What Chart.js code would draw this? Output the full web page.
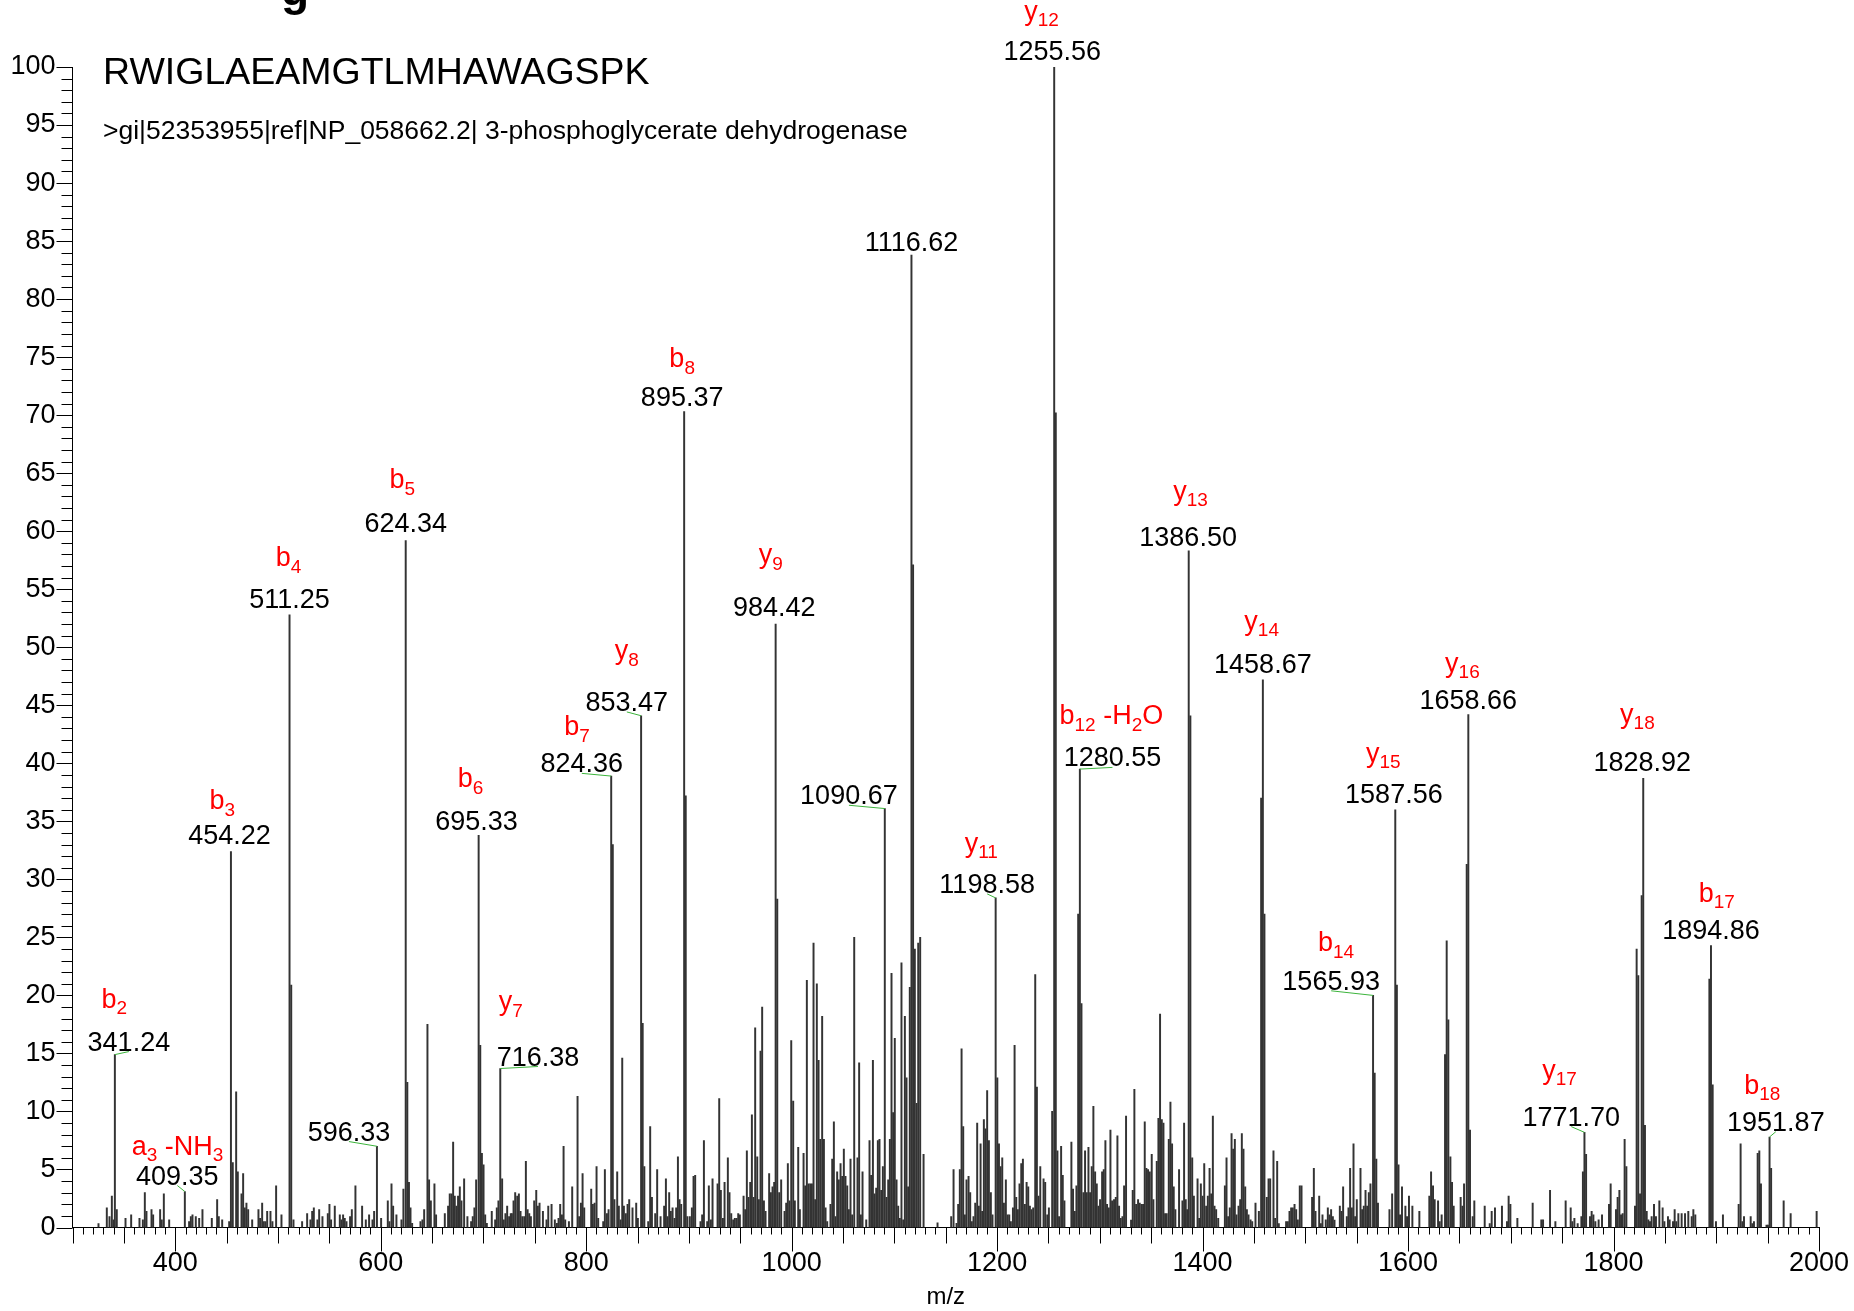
<!DOCTYPE html>
<html>
<head>
<meta charset="utf-8">
<title>MS/MS spectrum</title>
<script src="https://cdn.jsdelivr.net/npm/chart.js@4.4.1/dist/chart.umd.min.js"></script>
<style>
  html, body { margin: 0; padding: 0; background: #fff; }
  canvas { display: block; }
</style>
</head>
<body>
<canvas id="spectrum" width="1854" height="1311"></canvas>
<script>
const FONT = '"Liberation Sans", Arial, Helvetica, sans-serif';

const peptide = "RWIGLAEAMGTLMHAWAGSPK";
const proteinRef = ">gi|52353955|ref|NP_058662.2| 3-phosphoglycerate dehydrogenase";

// peak list (m/z, relative intensity %)
const peakMz = [
  325.3, 333.4, 336.0, 338.3, 339.9, 341.24, 343.1, 351.6, 357.1, 365.2,
  368.5, 370.4, 372.0, 376.9, 378.5, 385.3, 386.9, 388.9, 394.1, 409.35,
  413.5, 415.2, 416.8, 420.0, 423.3, 426.5, 435.6, 440.8, 442.4, 445.7,
  452.5, 454.22, 456.0, 459.3, 460.9, 464.5, 466.1, 467.7, 469.3, 471.0,
  474.9, 481.0, 482.6, 484.6, 486.2, 487.8, 489.5, 492.7, 494.6, 498.2,
  503.4, 511.25, 512.9, 515.1, 523.5, 528.4, 531.6, 533.3, 534.9, 538.4,
  540.1, 543.3, 548.5, 550.1, 551.7, 555.3, 560.2, 561.8, 563.4, 565.0,
  566.7, 570.2, 571.9, 575.4, 581.9, 585.5, 588.7, 592.0, 593.6, 596.33,
  600.4, 606.9, 608.5, 610.5, 612.1, 615.3, 620.2, 622.1, 624.34, 625.9,
  627.5, 629.0, 630.6, 638.7, 640.6, 642.3, 645.5, 647.1, 648.8, 652.3,
  653.9, 662.4, 665.6, 667.2, 668.9, 670.5, 672.1, 673.7, 675.3, 677.0,
  678.6, 681.2, 684.4, 688.0, 689.6, 691.2, 692.9, 695.33, 696.9, 698.5,
  700.1, 701.7, 703.3, 708.1, 711.4, 713.0, 714.6, 716.38, 718.2, 719.8,
  721.4, 723.1, 725.0, 726.6,
  727.7, 729.3, 730.9, 732.9, 734.5, 736.1, 737.8, 739.7, 741.3, 743.0,
  744.6, 746.2, 749.4, 751.4, 753.0, 754.6, 757.9, 761.4, 763.1, 766.3,
  769.5, 771.5, 773.1, 774.7, 776.4, 778.0, 779.6, 783.2, 786.4, 791.6,
  793.2, 794.9, 796.5, 798.1, 804.9, 806.5, 808.2, 810.1, 811.7, 816.6,
  818.2, 820.2, 821.8, 824.36, 825.9, 827.5, 830.2, 831.8, 833.5, 835.1,
  836.7, 838.6, 840.3, 841.9, 845.1, 848.7, 850.3, 853.47, 855.0, 856.6,
  860.4, 862.3, 864.0, 867.2, 869.1, 872.4, 875.9, 877.6, 879.2, 880.8,
  882.4, 884.1, 886.0, 887.6, 889.3, 890.9, 892.5, 895.37, 896.9, 898.5,
  900.9, 902.9, 904.5, 906.1, 911.3, 912.9, 914.6, 917.8, 919.4, 921.4,
  923.0, 927.9, 929.5, 931.1, 933.1, 934.7, 937.9, 939.5, 941.2, 943.1,
  944.7, 946.4, 948.0, 949.6, 953.2, 954.8, 956.4, 958.0, 959.7, 961.3,
  962.9, 964.5, 966.5, 968.1, 969.7, 971.3, 973.0, 974.6, 978.1, 979.8,
  981.4, 983.0, 984.42, 986.0, 987.9, 989.8, 993.1, 994.7, 996.3, 997.9,
  999.6, 1001.5, 1003.1, 1006.4, 1008.0, 1011.6, 1013.2, 1014.8, 1016.4, 1018.1,
  1019.7, 1021.3, 1022.9, 1024.5, 1026.2, 1027.8, 1029.7, 1031.4, 1033.0, 1034.6,
  1037.8, 1039.5, 1041.1, 1042.7, 1044.3, 1045.9, 1047.6, 1049.2, 1050.8, 1052.4,
  1054.1, 1055.7, 1057.3, 1058.9, 1060.9, 1064.1, 1065.7, 1067.4, 1069.0, 1072.6,
  1075.8, 1077.4, 1079.1, 1080.7, 1082.3, 1083.9, 1085.5, 1087.2, 1088.8, 1090.67,
  1092.3, 1094.0, 1095.6, 1097.2, 1098.8, 1100.4, 1102.1, 1103.7, 1105.3, 1106.9,
  1108.6, 1110.2, 1111.8, 1113.4, 1115.0, 1116.62, 1118.2, 1119.9, 1121.6, 1123.2,
  1125.1, 1128.4, 1142.0, 1155.3,
  1157.6, 1160.5, 1162.1, 1163.7, 1165.4, 1167.0, 1168.6, 1170.2, 1172.2, 1173.8,
  1175.4, 1177.0, 1178.7, 1180.6, 1182.2, 1183.9, 1185.5, 1187.1, 1188.7, 1190.3,
  1192.0, 1193.9, 1195.5, 1198.58, 1200.2, 1201.8, 1203.4, 1205.0, 1206.6, 1208.5,
  1210.2, 1211.8, 1213.4, 1215.4, 1217.0, 1218.6, 1220.2, 1221.8, 1223.5, 1225.1,
  1227.0, 1228.7, 1230.3, 1231.9, 1233.5, 1235.1, 1237.1, 1238.7, 1240.3, 1242.0,
  1245.2, 1246.8, 1248.8, 1250.4, 1253.6, 1255.56, 1257.1, 1258.7, 1260.3, 1262.3,
  1263.9, 1265.5, 1272.3, 1273.9, 1275.6, 1277.2, 1278.9, 1280.55, 1282.1, 1284.0,
  1285.6, 1287.3, 1288.9, 1290.5, 1292.1, 1293.7, 1295.4, 1297.0, 1298.6, 1300.2,
  1302.2, 1303.8, 1305.4, 1307.0, 1308.7, 1310.3, 1311.9, 1313.8, 1315.5, 1317.1,
  1318.7, 1320.3, 1322.0, 1323.6, 1325.5, 1330.4, 1332.0, 1333.6, 1335.3, 1337.2,
  1338.8, 1340.5, 1342.1, 1343.7, 1345.3, 1346.9, 1348.6, 1350.5, 1352.1, 1355.4,
  1357.0, 1358.6, 1360.3, 1361.9, 1363.5, 1365.1, 1367.1, 1368.7, 1370.3, 1371.9,
  1373.5, 1377.1, 1380.4, 1382.0, 1383.6, 1385.0, 1386.50, 1388.1, 1389.9, 1391.5,
  1395.1, 1396.7, 1398.3, 1400.0, 1401.6, 1403.5, 1405.1, 1406.8, 1408.4, 1410.0,
  1411.6, 1413.2, 1415.2, 1421.7, 1423.3, 1424.9, 1426.5, 1428.2, 1429.8, 1431.4,
  1433.0, 1435.0, 1436.6, 1438.2, 1439.8, 1441.5, 1443.1, 1444.7, 1446.7, 1448.3,
  1451.5, 1454.8, 1457.0, 1458.67, 1460.2, 1462.5, 1464.2, 1465.8, 1469.0, 1470.6,
  1472.6, 1474.2, 1481.3, 1483.0, 1484.6, 1486.2, 1487.8, 1489.5, 1491.1, 1492.7,
  1494.6, 1496.3, 1506.6, 1508.3, 1509.9, 1513.5, 1515.1, 1516.7, 1519.9, 1521.9,
  1523.5, 1525.1, 1526.8, 1528.4, 1533.6, 1535.2, 1536.8, 1540.4, 1542.0, 1543.6,
  1545.3, 1546.9, 1548.5, 1550.1, 1553.7, 1555.3, 1556.9, 1558.6, 1560.2, 1561.8,
  1563.4, 1565.93, 1567.5, 1569.1, 1570.7, 1581.9, 1584.5,
  1587.56, 1589.1, 1590.7, 1592.2, 1594.1, 1597.4, 1599.0, 1600.9, 1604.2, 1611.0,
  1620.7, 1622.4, 1624.3, 1625.9, 1629.2, 1630.8, 1632.7, 1636.0, 1637.6, 1639.2,
  1641.2, 1642.8, 1644.4, 1651.2, 1652.9, 1654.5, 1657.1, 1658.66, 1660.3, 1662.9,
  1664.5, 1674.6, 1679.5, 1681.4, 1684.6, 1691.4, 1696.3, 1697.9, 1699.6, 1706.4,
  1721.3, 1729.7, 1731.4, 1738.2, 1743.4, 1753.4, 1758.3, 1759.9, 1761.9, 1765.1,
  1768.7, 1770.2, 1771.70, 1773.3, 1777.1, 1778.7, 1780.4, 1782.3, 1785.5, 1788.8,
  1795.6, 1797.2, 1802.4, 1804.0, 1805.7, 1807.3, 1808.9, 1810.8, 1812.5, 1820.9,
  1822.5, 1824.1, 1825.8, 1827.4, 1828.92, 1830.6, 1832.3, 1833.9, 1835.5, 1837.1,
  1839.4, 1841.3, 1844.6, 1847.8, 1849.5, 1853.0, 1854.6, 1857.9, 1859.5, 1861.1,
  1863.1, 1866.3, 1869.6, 1872.8, 1876.1, 1877.7, 1879.6, 1893.3, 1894.86, 1896.5,
  1899.7, 1906.5, 1921.8, 1923.7, 1925.4, 1927.0, 1933.5, 1935.1, 1936.7, 1940.3,
  1941.9, 1943.5, 1948.9, 1950.3, 1951.87, 1953.4, 1965.6, 1972.4, 1997.7
];

const peakIntensity = [
  0.34, 1.7, 0.95, 2.7, 0.66, 14.9, 1.55, 0.8, 1.1, 0.8,
  0.66, 3.0, 1.4, 1.55, 1.1, 1.55, 0.66, 2.9, 0.66, 3.1,
  0.5, 0.95, 1.1, 0.95, 0.8, 1.55, 0.8, 2.4, 0.95, 0.66,
  0.5, 32.4, 5.6, 11.7, 4.8, 2.9, 4.65, 1.7, 2.1, 1.55,
  0.66, 1.55, 0.8, 2.1, 0.5, 0.5, 1.4, 1.4, 0.5, 3.6,
  1.1, 52.8, 20.9, 0.66, 0.5, 1.2, 0.66, 1.4, 1.7, 0.66,
  1.55, 0.95, 1.2, 2.0, 0.66, 1.85, 1.1, 0.66, 1.1, 0.8,
  0.5, 0.95, 1.55, 3.6, 1.85, 0.66, 1.1, 0.66, 1.4, 7.0,
  0.8, 2.3, 0.5, 3.76, 1.85, 1.1, 0.66, 3.3, 59.2, 12.5,
  3.9, 1.7, 0.37, 0.5, 0.66, 1.55, 17.5, 4.1, 2.3, 3.76,
  1.1, 1.2, 1.85, 2.9, 2.9, 7.35, 2.7, 1.85, 2.7, 3.5,
  2.3, 4.2, 0.95, 0.5, 0.95, 1.7, 4.1, 33.8, 15.7, 6.4,
  5.4, 1.1, 0.37, 1.4, 0.66, 1.7, 2.3, 13.7, 4.2, 0.66,
  1.2, 1.85, 0.95, 1.2,
  1.2, 2.3, 3.0, 2.7, 2.9, 1.4, 0.95, 0.95, 5.7, 1.55,
  1.2, 0.95, 2.3, 3.2, 1.85, 2.1, 1.4, 0.66, 1.85, 2.0,
  0.66, 0.37, 0.8, 2.0, 1.1, 7.0, 0.66, 0.5, 3.5, 11.3,
  0.95, 2.1, 4.65, 1.7, 3.3, 2.0, 2.1, 5.25, 0.8, 0.5,
  5.0, 1.2, 1.55, 38.9, 33.0, 2.4, 4.8, 1.85, 0.66, 14.6,
  1.85, 1.2, 2.0, 2.4, 1.7, 2.1, 0.8, 44.1, 17.6, 5.25,
  0.5, 8.7, 2.6, 1.2, 5.0, 0.95, 1.85, 4.2, 0.95, 3.0,
  1.4, 1.7, 0.8, 1.7, 6.1, 2.4, 2.0, 70.3, 37.2, 0.95,
  0.95, 1.7, 4.4, 4.5, 0.5, 1.1, 7.5, 0.5, 3.6, 0.66,
  4.2, 3.76, 11.1, 3.2, 0.8, 3.9, 6.0, 3.0, 1.2, 0.66,
  0.8, 0.8, 1.2, 1.1, 2.7, 1.55, 6.6, 2.6, 3.9, 9.7,
  2.6, 17.2, 6.1, 2.4, 15.2, 19.0, 2.3, 1.4, 4.65, 3.0,
  3.5, 3.9, 52.0, 28.3, 3.0, 4.1, 1.4, 2.1, 5.5, 2.3,
  16.1, 10.9, 2.3, 6.9, 1.55, 6.4, 3.6, 21.3, 3.76, 3.76,
  3.76, 24.5, 2.4, 21.0, 14.4, 7.6, 18.2, 7.6, 1.7, 0.5,
  2.0, 5.9, 9.1, 0.95, 4.8, 4.1, 5.5, 4.4, 6.75, 4.4,
  3.6, 1.55, 5.9, 1.1, 25.0, 6.0, 14.2, 1.1, 4.8, 0.66,
  7.5, 4.5, 14.4, 2.9, 3.4, 7.5, 7.6, 3.2, 5.25, 36.1,
  2.6, 4.1, 7.6, 21.9, 9.9, 16.3, 4.1, 1.85, 0.8, 22.8,
  0.66, 18.2, 12.9, 3.5, 20.7, 83.8, 57.1, 24.0, 10.7, 24.5,
  25.0, 6.3, 0.4, 0.95,
  5.0, 0.37, 2.0, 5.0, 15.4, 8.7, 1.1, 4.1, 4.4, 3.0,
  0.5, 0.95, 2.1, 9.0, 1.85, 7.2, 1.4, 9.3, 8.5, 11.8,
  7.5, 3.0, 1.1, 28.4, 12.9, 7.2, 5.25, 6.0, 2.1, 4.1,
  1.1, 1.1, 0.5, 1.7, 15.7, 2.6, 1.55, 3.76, 5.5, 5.9,
  2.0, 3.9, 3.5, 1.85, 1.55, 1.7, 21.8, 12.1, 2.7, 5.25,
  4.2, 3.9, 1.1, 1.7, 10.0, 100, 70.2, 6.6, 0.95, 7.0,
  4.5, 2.3, 7.35, 3.3, 1.4, 3.6, 27.0, 39.5, 19.3, 3.0,
  6.6, 3.0, 6.9, 3.0, 5.25, 10.45, 4.8, 3.76, 1.85, 2.4,
  4.8, 5.0, 7.5, 2.0, 1.7, 8.4, 2.3, 2.4, 2.6, 7.9,
  1.85, 0.8, 0.95, 3.6, 9.6, 0.63, 3.2, 11.9, 2.0, 2.4,
  2.1, 2.0, 2.0, 9.1, 5.1, 5.0, 4.8, 6.3, 2.4, 5.7,
  9.4, 18.4, 9.3, 9.0, 1.2, 1.2, 7.6, 10.8, 7.2, 3.5,
  1.55, 5.0, 2.3, 9.0, 2.4, 1.55, 58.3, 44.1, 6.0, 2.7,
  4.2, 0.8, 3.76, 2.7, 5.5, 1.85, 2.7, 5.1, 2.9, 9.6,
  1.85, 1.55, 0.8, 3.6, 6.0, 0.95, 1.7, 8.1, 6.75, 7.6,
  1.1, 1.85, 2.4, 8.1, 6.75, 3.5, 1.55, 1.1, 0.66, 0.5,
  2.1, 1.4, 37.0, 47.2, 27.0, 2.6, 4.2, 4.2, 6.6, 0.8,
  5.7, 0.34, 0.5, 0.5, 1.4, 1.7, 1.7, 2.0, 1.55, 0.66,
  3.6, 3.6, 2.6, 5.1, 1.4, 2.7, 0.34, 1.1, 0.66, 1.7,
  1.1, 1.55, 0.95, 0.63, 1.85, 1.4, 3.5, 0.95, 1.7, 5.1,
  1.7, 7.2, 0.95, 2.4, 5.1, 1.55, 1.85, 3.2, 1.85, 3.0,
  3.76, 20.0, 13.3, 5.9, 2.1, 1.55, 2.9,
  36.0, 20.9, 5.4, 1.1, 3.5, 1.85, 0.95, 2.7, 1.85, 1.4,
  2.7, 4.8, 3.6, 2.4, 2.3, 0.5, 1.1, 14.9, 24.7, 17.9,
  6.1, 3.9, 1.85, 2.6, 1.85, 3.76, 31.3, 44.2, 8.4, 0.95,
  2.3, 1.85, 0.34, 1.4, 1.7, 1.85, 0.5, 2.7, 2.0, 0.8,
  2.1, 0.66, 0.66, 3.2, 0.5, 2.3, 1.7, 0.5, 0.8, 0.34,
  0.95, 4.8, 8.2, 6.3, 0.95, 1.4, 1.1, 0.5, 0.66, 1.1,
  2.0, 3.76, 1.55, 2.6, 3.2, 1.1, 1.2, 7.6, 5.25, 1.85,
  24.0, 21.7, 2.9, 28.6, 38.7, 8.8, 1.4, 0.66, 0.5, 0.95,
  2.0, 0.95, 2.3, 1.7, 0.5, 0.95, 0.66, 0.5, 1.55, 0.5,
  1.2, 1.2, 1.2, 1.4, 0.95, 1.55, 1.1, 21.4, 24.3, 12.3,
  0.5, 1.1, 2.0, 7.2, 0.5, 0.95, 0.95, 0.34, 0.5, 6.4,
  6.6, 3.76, 0.2, 0.2, 7.8, 5.1, 2.3, 1.2, 1.4
];

// annotated fragment ions ("_n" marks a subscript)
const annotatedMz = [
  341.24, 409.35, 454.22, 511.25, 596.33, 624.34, 695.33, 716.38, 824.36, 853.47,
  895.37, 984.42, 1090.67, 1116.62, 1198.58, 1255.56, 1280.55, 1386.50, 1458.67, 1565.93,
  1587.56, 1658.66, 1771.70, 1828.92, 1894.86, 1951.87
];
const ionLabels = [
  "b_2", "a_3 -NH_3", "b_3", "b_4", "", "b_5", "b_6", "y_7", "b_7", "y_8",
  "b_8", "y_9", "", "", "y_11", "y_12", "b_12 -H_2O", "y_13", "y_14", "b_14",
  "y_15", "y_16", "y_17", "y_18", "b_17", "b_18"
];
// label placement in px from the peak top: [number dx, number baseline dy, ion dx, ion baseline dy]
const labelLayout = [
  [14, -4, -0.5, -47], [-7.5, -7, -7.3, -37], [-1.5, -7, -8.6, -42], [0, -6.6, -1, -48.6],
  [-28, -5.7, 0, 0], [0, -8.1, -3.5, -52], [-2.1, -5, -8, -48.2], [37.7, -3, 10.5, -58.5],
  [-29.4, -3.7, -34.2, -41], [-14.3, -4.8, -14.3, -56.7], [-2, -5.7, -2, -44.2], [-1.3, -7.7, -4.8, -60.8],
  [-35.9, -4.3, 0, 0], [0, -3.8, 0, 0], [-8.5, -5, -14.4, -46.3], [-2, -7.3, -12.7, -47.4],
  [32.6, -2.7, 31.5, -44.7], [-0.6, -5.4, 1.8, -51.4], [0, -6.7, -1.2, -50.2], [-41.9, -5.6, -37.1, -44.1],
  [-1.4, -6.7, -12, -47.9], [0, -6, -5.9, -42.6], [-13.2, -6.7, -25, -53.6], [-1, -7.3, -5.8, -55.6],
  [0, -6.5, 5.8, -43.8], [6.3, -6.3, -7.3, -43]
];

function drawIon(ctx, text, cx, baseY) {
  const parts = text.split(/_(\d+)/);
  const fonts = parts.map((p, i) => (i % 2 ? "19px " : "27px ") + FONT);
  let w = 0;
  parts.forEach((p, i) => { ctx.font = fonts[i]; w += ctx.measureText(p).width; });
  let xx = cx - w / 2;
  ctx.textAlign = "left";
  parts.forEach((p, i) => {
    ctx.font = fonts[i];
    ctx.fillText(p, xx, i % 2 ? baseY + 6.5 : baseY);
    xx += ctx.measureText(p).width;
  });
}

const spectrumDecor = {
  id: "spectrumDecor",
  afterDraw(chart) {
    const { ctx, chartArea: area, scales: { x, y } } = chart;
    ctx.save();

    // minor and major ticks, outside the axes
    ctx.strokeStyle = "#000";
    ctx.lineWidth = 1;
    ctx.beginPath();
    for (let v = 0; v <= 100; v++) {
      const py = Math.round(y.getPixelForValue(v)) + 0.5;
      ctx.moveTo(area.left - (v % 5 === 0 ? 16 : 11), py);
      ctx.lineTo(area.left, py);
    }
    for (let v = 300; v <= 2000; v += 10) {
      const px = Math.round(x.getPixelForValue(v)) + 0.5;
      const len = v % 200 === 0 ? 24 : (v % 50 === 0 ? 16 : 7);
      ctx.moveTo(px, area.bottom);
      ctx.lineTo(px, area.bottom + len);
    }
    ctx.stroke();

    // peak labels
    ctx.textBaseline = "alphabetic";
    annotatedMz.forEach((mz, i) => {
      const k = peakMz.indexOf(mz);
      const px = x.getPixelForValue(mz);
      const py = y.getPixelForValue(peakIntensity[k]);
      const [ndx, ndy, idx, idy] = labelLayout[i];
      const cx = px + ndx;
      const by = py + ndy;
      if (Math.abs(ndx) > 4) {
        ctx.strokeStyle = "#3cb43c";
        ctx.lineWidth = 1;
        ctx.beginPath();
        ctx.moveTo(cx, by + 1);
        ctx.lineTo(px, py);
        ctx.stroke();
      }
      ctx.fillStyle = "#000";
      ctx.font = "27px " + FONT;
      ctx.textAlign = "center";
      ctx.fillText(mz.toFixed(2), cx, by);
      if (ionLabels[i]) {
        ctx.fillStyle = "#ff0000";
        drawIon(ctx, ionLabels[i], px + idx, py + idy);
      }
    });

    // header lines
    ctx.fillStyle = "#000";
    ctx.textAlign = "left";
    ctx.font = "37.5px " + FONT;
    ctx.fillText(peptide, 103, 84);
    ctx.font = "26.5px " + FONT;
    ctx.fillText(proteinRef, 103, 139);
    // tail of a cropped bold heading at the very top
    ctx.font = "bold 46px " + FONT;
    ctx.fillText("g", 281, 5);

    ctx.restore();
  }
};

new Chart(document.getElementById("spectrum"), {
  type: "bar",
  data: {
    datasets: [{
      data: peakMz.map((m, i) => ({ x: m, y: peakIntensity[i] })),
      backgroundColor: "#333333",
      borderWidth: 0,
      barThickness: 1.3
    }]
  },
  options: {
    responsive: false,
    animation: false,
    devicePixelRatio: 1,
    layout: { padding: { left: 0, right: 35, top: 67, bottom: 0 } },
    plugins: { legend: { display: false }, tooltip: { enabled: false } },
    scales: {
      x: {
        type: "linear",
        min: 300,
        max: 2000,
        offset: false,
        grid: { display: false, drawTicks: false, offset: false },
        border: { display: true, color: "#000", width: 1 },
        ticks: {
          stepSize: 200,
          autoSkip: false,
          maxRotation: 0,
          padding: 20,
          color: "#000",
          font: { family: FONT, size: 27 },
          callback: v => String(v)
        },
        afterBuildTicks: s => { s.ticks = s.ticks.filter(t => t.value % 200 === 0); },
        afterFit: s => { s.height = 83.5; s.paddingLeft = 0; s.paddingRight = 0; },
        title: {
          display: true,
          text: "m/z",
          color: "#000",
          font: { family: FONT, size: 24, lineHeight: 1.1 },
          padding: 0
        }
      },
      y: {
        min: 0,
        max: 100,
        grid: { display: false, drawTicks: false },
        border: { display: true, color: "#000", width: 1 },
        ticks: {
          stepSize: 5,
          padding: 17,
          color: "#000",
          font: { family: FONT, size: 27 }
        },
        afterFit: s => { s.width = 72.5; s.paddingTop = 0; s.paddingBottom = 0; }
      }
    }
  },
  plugins: [spectrumDecor]
});
</script>
</body>
</html>
